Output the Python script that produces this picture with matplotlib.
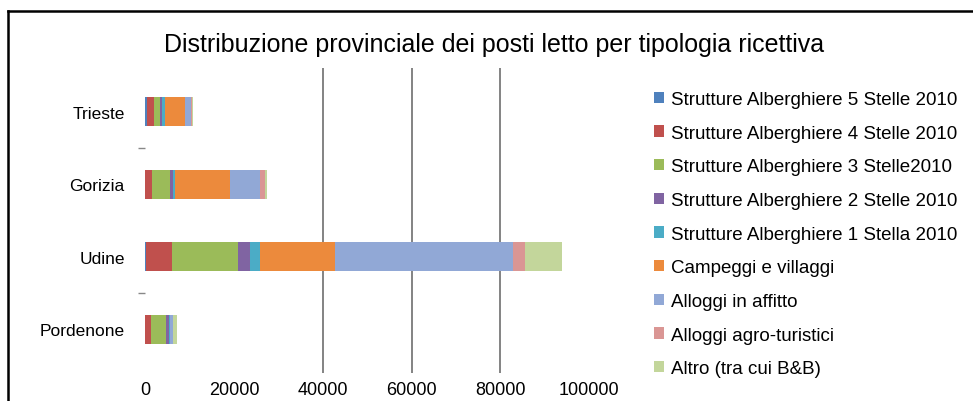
import numpy as np
import matplotlib.pyplot as plt
from matplotlib.lines import Line2D

plt.rcParams['font.family'] = ['Liberation Sans', 'DejaVu Sans']

# ---------------- dati ----------------
province = ["Trieste", "Gorizia", "Udine", "Pordenone"]

categorie = [
    "Strutture Alberghiere 5 Stelle 2010",
    "Strutture Alberghiere 4 Stelle 2010",
    "Strutture Alberghiere 3 Stelle2010",
    "Strutture Alberghiere 2 Stelle 2010",
    "Strutture Alberghiere 1 Stella 2010",
    "Campeggi e villaggi",
    "Alloggi in affitto",
    "Alloggi agro-turistici",
    "Altro (tra cui B&B)",
]

alb_5 = [300, 0, 200, 0]
alb_4 = [1700, 1500, 5800, 1350]
alb_3 = [1350, 4050, 14900, 3380]
alb_2 = [400, 680, 2700, 680]
alb_1 = [700, 450, 2250, 200]
campeggi = [4500, 12400, 16900, 0]
affitto = [1350, 6770, 40100, 700]
agro = [200, 1130, 2700, 0]
altro = [250, 450, 8300, 900]

serie = [alb_5, alb_4, alb_3, alb_2, alb_1, campeggi, affitto, agro, altro]

colori = ["#4F81BD", "#C0504D", "#9BBB59", "#8064A2", "#4BACC6",
          "#EC8A3C", "#91A8D6", "#DA9694", "#C3D69B"]

# ---------------- grafico ----------------
fig = plt.figure(figsize=(9.73, 4.02), dpi=100)
ax = fig.add_axes([0.1495, 0.07, 0.4558, 0.758])

y = np.arange(len(province))
left = np.zeros(len(province))
handles = []
for vals, col, lab in zip(serie, colori, categorie):
    b = ax.barh(y, vals, left=left, height=0.4, color=col, label=lab, zorder=3)
    handles.append(b)
    left += np.array(vals)

ax.set_xlim(0, 100000)
ax.set_ylim(3.6, -0.6)
ax.set_xticks([0, 20000, 40000, 60000, 80000, 100000])
ax.set_yticks(y)
ax.set_yticklabels(province)
ax.set_yticks([0.5, 2.5], minor=True)
ax.tick_params(axis='both', which='major', length=0, labelsize=12.5)
ax.tick_params(axis='y', which='major', pad=15)
ax.tick_params(axis='x', which='major', pad=6, labelsize=13)
ax.tick_params(axis='y', which='minor', length=5, color='#888888', width=1)

for s in ax.spines.values():
    s.set_visible(False)

for gx in [40000, 60000, 80000]:
    ax.axvline(gx, color='#6E6E6E', linewidth=1.2, zorder=1)

fig.text(0.508, 0.888, "Distribuzione provinciale dei posti letto per tipologia ricettiva",
         ha='center', va='center', fontsize=18)

leg = fig.legend(handles=handles, labels=categorie, loc='upper left',
                 bbox_to_anchor=(0.664, 0.79), frameon=False, fontsize=13.5,
                 handlelength=0.55, handleheight=0.55, handletextpad=0.4,
                 labelspacing=0.89, borderaxespad=0)

# cornice
fig.add_artist(Line2D([0.0087, 0.0087], [0.0, 0.97], transform=fig.transFigure,
                      color='black', linewidth=1.8))
fig.add_artist(Line2D([0.0087, 1.0], [0.97, 0.97], transform=fig.transFigure,
                      color='black', linewidth=1.8))

fig.savefig("out.png", dpi=100)
